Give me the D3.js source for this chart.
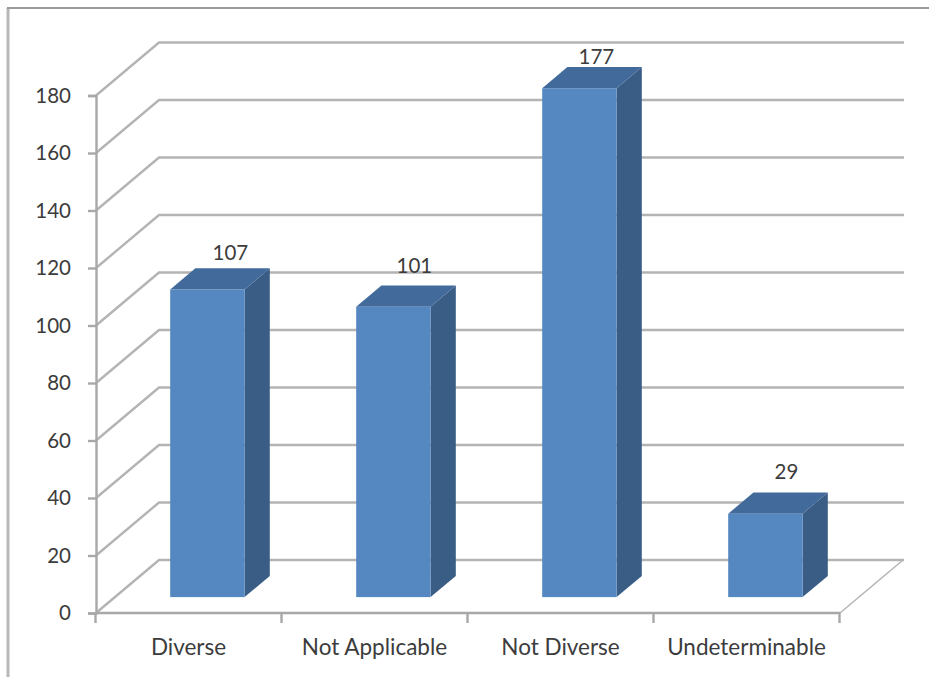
<!DOCTYPE html>
<html>
<head>
<meta charset="utf-8">
<style>
html, body { margin: 0; padding: 0; background: #fff; }
svg { display: block; }
text { font-family: Lato, "Open Sans", sans-serif; fill: #3c3c3c; }
</style>
<script src="https://cdn.jsdelivr.net/npm/d3@7/dist/d3.min.js"></script>
</head>
<body>
<svg id="chart" width="929" height="677"></svg>
<script>
const categories = ["Diverse", "Not Applicable", "Not Diverse", "Undeterminable"];
const counts = [107, 101, 177, 29];
const yTicks = [0, 20, 40, 60, 80, 100, 120, 140, 160, 180];
const labelShiftX = [23, 21, 17, 21];
const labelShiftY = [-37, -42, -32, -43];

const svg = d3.select("#chart");
const x = d3.scaleBand().domain(categories).range([95.5, 839.5]).paddingInner(0).paddingOuter(0);
const y = d3.scaleLinear().domain([0, 180]).range([613, 95.5]);

// Oblique projection of the chart's depth axis
const wallDx = 63, wallDy = -53;
const barInset = 0.3, barDepth = 0.4;
const barFrac = 0.4;

const gridColor = "#b4b4b4", axisColor = "#a8a8a8";
const front = "#5587c0", side = "#3a5d86", top_ = "#426b9c";

// Outer frame on the left and top edges
svg.append("line").attr("x1", 8).attr("x2", 8).attr("y1", 8).attr("y2", 677)
  .attr("stroke", "#b8b8b8").attr("stroke-width", 3);
svg.append("line").attr("x1", 7).attr("x2", 929).attr("y1", 8).attr("y2", 8)
  .attr("stroke", "#9a9a9a").attr("stroke-width", 2);

// Gridlines: a slanted run across the side wall, then the back wall
svg.append("g").selectAll("polyline").data(yTicks).join("polyline")
  .attr("fill", "none").attr("stroke", gridColor).attr("stroke-width", 2.4)
  .attr("points", d => [
    [96, y(d)],
    [96 + wallDx, y(d) + wallDy],
    [840 + wallDx + 1, y(d) + wallDy]
  ].join(" "));

// Right edge of the floor
svg.append("line")
  .attr("x1", 840).attr("y1", y(0)).attr("x2", 840 + wallDx).attr("y2", y(0) + wallDy)
  .attr("stroke", gridColor).attr("stroke-width", 1.5);

// Bars as three faces each
const bars = svg.append("g").selectAll("g").data(categories).join("g");
const geom = (c, i) => {
  const w = x.bandwidth() * barFrac;
  const cx = x(c) + x.bandwidth() / 2 + wallDx * barInset;
  const x0 = cx - w / 2, x1 = cx + w / 2;
  const yb = y(0) + wallDy * barInset, yt = y(counts[i]) + wallDy * barInset;
  return { x0, x1, yb, yt, dx: wallDx * barDepth, dy: wallDy * barDepth, cx };
};
bars.append("polygon").attr("fill", side).attr("points", (c, i) => {
  const g = geom(c, i);
  return [[g.x1, g.yb], [g.x1 + g.dx, g.yb + g.dy], [g.x1 + g.dx, g.yt + g.dy], [g.x1, g.yt]].join(" ");
});
bars.append("polygon").attr("fill", top_).attr("points", (c, i) => {
  const g = geom(c, i);
  return [[g.x0, g.yt], [g.x0 + g.dx, g.yt + g.dy], [g.x1 + g.dx, g.yt + g.dy], [g.x1, g.yt]].join(" ");
});
bars.append("rect").attr("fill", front)
  .attr("x", (c, i) => geom(c, i).x0)
  .attr("y", (c, i) => geom(c, i).yt)
  .attr("width", (c, i) => geom(c, i).x1 - geom(c, i).x0)
  .attr("height", (c, i) => geom(c, i).yb - geom(c, i).yt);

// Value labels above each bar
svg.append("g").selectAll("text").data(categories).join("text")
  .attr("text-anchor", "middle").attr("dominant-baseline", "central")
  .attr("font-size", 20.5)
  .attr("x", (c, i) => geom(c, i).cx + labelShiftX[i])
  .attr("y", (c, i) => geom(c, i).yt + labelShiftY[i])
  .text((c, i) => counts[i]);

// Axes
const yAxis = d3.axisLeft(y).tickValues(yTicks).tickSize(8).tickPadding(17).tickFormat(d3.format("d"));
const gy = svg.append("g").attr("transform", "translate(96,0)").call(yAxis);
const xAxis = d3.axisBottom(x).tickSize(0).tickPadding(35);
const gx = svg.append("g").attr("transform", "translate(0,613)").call(xAxis);
gx.selectAll(".tick text").attr("font-size", 22.5).attr("dy", "0.32em");
gy.selectAll(".tick text").attr("font-size", 20.5).attr("dy", "0.34em");
svg.selectAll(".domain, .tick line").attr("stroke", axisColor).attr("stroke-width", 2.4);
gx.select(".domain").attr("d", "M96,0H840");

// Category boundary ticks on the front edge
gx.append("g").selectAll("line").data([...categories.map(c => x(c)), x.range()[1]]).join("line")
  .attr("x1", d => d).attr("x2", d => d).attr("y1", 0).attr("y2", 10)
  .attr("stroke", axisColor).attr("stroke-width", 2.4);
svg.selectAll("text").style("fill", "#3c3c3c");
</script>
</body>
</html>
